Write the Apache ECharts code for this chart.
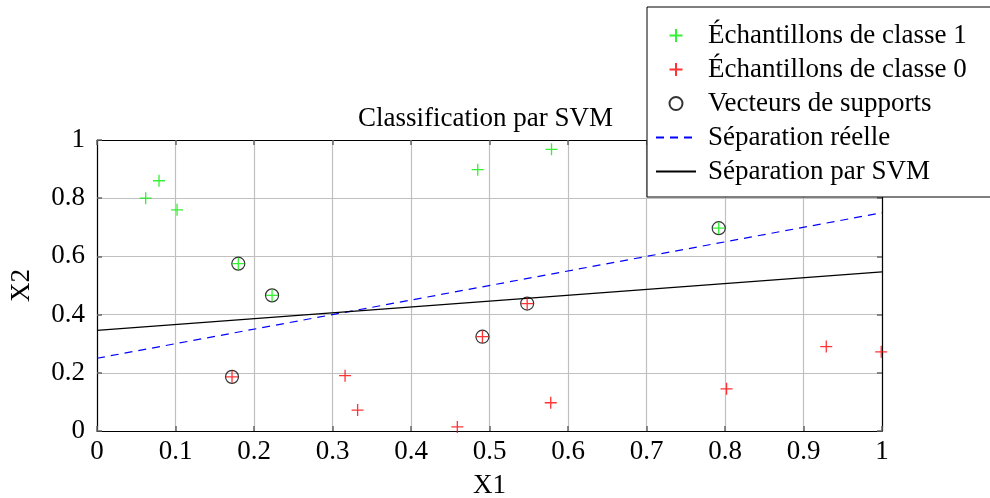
<!DOCTYPE html>
<html>
<head>
<meta charset="utf-8">
<script src="https://cdn.jsdelivr.net/npm/echarts@6/dist/echarts.min.js"></script>
<style>
  html, body { margin: 0; padding: 0; background: #fff; }
  #chart { width: 990px; height: 498px; }
</style>
</head>
<body>
<div id="chart"></div>
<script>
// points (x1, x2)
const classe1 = [
  [0.062, 0.800], [0.079, 0.860], [0.102, 0.760], [0.180, 0.575],
  [0.223, 0.466], [0.485, 0.898], [0.579, 0.968], [0.792, 0.697]
];
const classe0 = [
  [0.172, 0.186], [0.316, 0.190], [0.332, 0.072], [0.459, 0.014],
  [0.491, 0.324], [0.548, 0.438], [0.578, 0.097], [0.802, 0.145],
  [0.929, 0.290], [0.999, 0.272]
];
const supports = [
  [0.180, 0.575], [0.223, 0.466], [0.792, 0.697],
  [0.172, 0.186], [0.491, 0.324], [0.548, 0.438]
];
const separationReelle = [[0, 0.25], [1, 0.75]];
const separationSVM = [[0, 0.346], [1, 0.547]];
const xTicks = [0, 0.1, 0.2, 0.3, 0.4, 0.5, 0.6, 0.7, 0.8, 0.9, 1];
const yTicks = [0, 0.2, 0.4, 0.6, 0.8, 1];

const FONT = "'Liberation Serif', 'DejaVu Serif', serif";
const FS = 27;
const plus = "path://M0,5L10,5M5,0L5,10";
// hide the dot the line series puts in the middle of its legend icon
const noDot = { color: "transparent", borderColor: "transparent", borderWidth: 0 };

const chart = echarts.init(document.getElementById("chart"));

const fmt = v => String(Math.round(v * 10) / 10);

const baseAxis = {
  min: 0,
  max: 1,
  axisLine: { show: true, onZero: false, lineStyle: { color: "#000", width: 1.2 } },
  axisTick: { show: true, inside: true, length: 5, lineStyle: { color: "#666", width: 1.5 } },
  splitLine: { show: false }
};

chart.setOption({
  animation: false,
  backgroundColor: "#fff",
  title: {
    text: "Classification par SVM",
    left: 353,
    top: 100,
    textStyle: { fontFamily: FONT, fontSize: FS, fontWeight: "normal", color: "#000" }
  },
  legend: {
    orient: "vertical",
    left: 647,
    top: 7,
    padding: [15, 40, 12, 8],
    itemGap: 7,
    itemWidth: 40,
    itemHeight: 13,
    backgroundColor: "#fff",
    borderColor: "#000",
    borderWidth: 1,
    textStyle: { fontFamily: FONT, fontSize: FS, color: "#000", padding: [0, 0, 0, 7] },
    data: [
      { name: "Échantillons de classe 1" },
      { name: "Échantillons de classe 0" },
      { name: "Vecteurs de supports" },
      { name: "Séparation réelle", itemStyle: noDot },
      { name: "Séparation par SVM", itemStyle: noDot }
    ]
  },
  grid: { left: 97, top: 140, width: 785, height: 291, outerBoundsMode: "none", containLabel: false },
  xAxis: [
    Object.assign({}, baseAxis, {
      type: "value",
      position: "bottom",
      interval: 0.1,
      name: "X1",
      nameLocation: "middle",
      nameGap: 41,
      nameTextStyle: { fontFamily: FONT, fontSize: FS, color: "#000" },
      axisLabel: { fontFamily: FONT, fontSize: FS, color: "#000", margin: 7,
        formatter: v => xTicks.some(t => Math.abs(t - v) < 1e-6) ? fmt(v) : "" },
      splitLine: { show: true, lineStyle: { color: "#c0c0c0", width: 1.2 } }
    }),
    Object.assign({}, baseAxis, {
      type: "value",
      position: "top",
      interval: 0.1,
      axisLabel: { show: false }
    })
  ],
  yAxis: [
    Object.assign({}, baseAxis, {
      type: "value",
      position: "left",
      interval: 0.2,
      name: "X2",
      nameLocation: "middle",
      nameGap: 62,
      nameTextStyle: { fontFamily: FONT, fontSize: FS, color: "#000" },
      axisLabel: { fontFamily: FONT, fontSize: FS, color: "#000", margin: 12,
        formatter: v => yTicks.some(t => Math.abs(t - v) < 1e-6) ? fmt(v) : "" },
      splitLine: { show: true, lineStyle: { color: "#c0c0c0", width: 1.2 } }
    }),
    Object.assign({}, baseAxis, {
      type: "value",
      position: "right",
      interval: 0.2,
      axisLabel: { show: false }
    })
  ],
  series: [
    {
      name: "Échantillons de classe 1",
      type: "scatter",
      data: classe1,
      symbol: plus,
      symbolSize: 12,
      itemStyle: { color: "transparent", borderColor: "#00ee00", borderWidth: 1.3 },
      z: 4
    },
    {
      name: "Échantillons de classe 0",
      type: "scatter",
      data: classe0,
      symbol: plus,
      symbolSize: 12,
      itemStyle: { color: "transparent", borderColor: "#ff0000", borderWidth: 1.3 },
      z: 4
    },
    {
      name: "Vecteurs de supports",
      type: "scatter",
      data: supports,
      symbol: "circle",
      symbolSize: 13,
      itemStyle: { color: "transparent", borderColor: "#000", borderWidth: 1.2 },
      z: 3
    },
    {
      name: "Séparation réelle",
      type: "line",
      data: separationReelle,
      symbol: "none",
      lineStyle: { color: "#0000ff", width: 1.2, type: [8, 6] },
      itemStyle: { color: "#0000ff" },
      z: 2
    },
    {
      name: "Séparation par SVM",
      type: "line",
      data: separationSVM,
      symbol: "none",
      lineStyle: { color: "#000", width: 1.2 },
      itemStyle: { color: "#000" },
      z: 2
    }
  ]
});
</script>
</body>
</html>
